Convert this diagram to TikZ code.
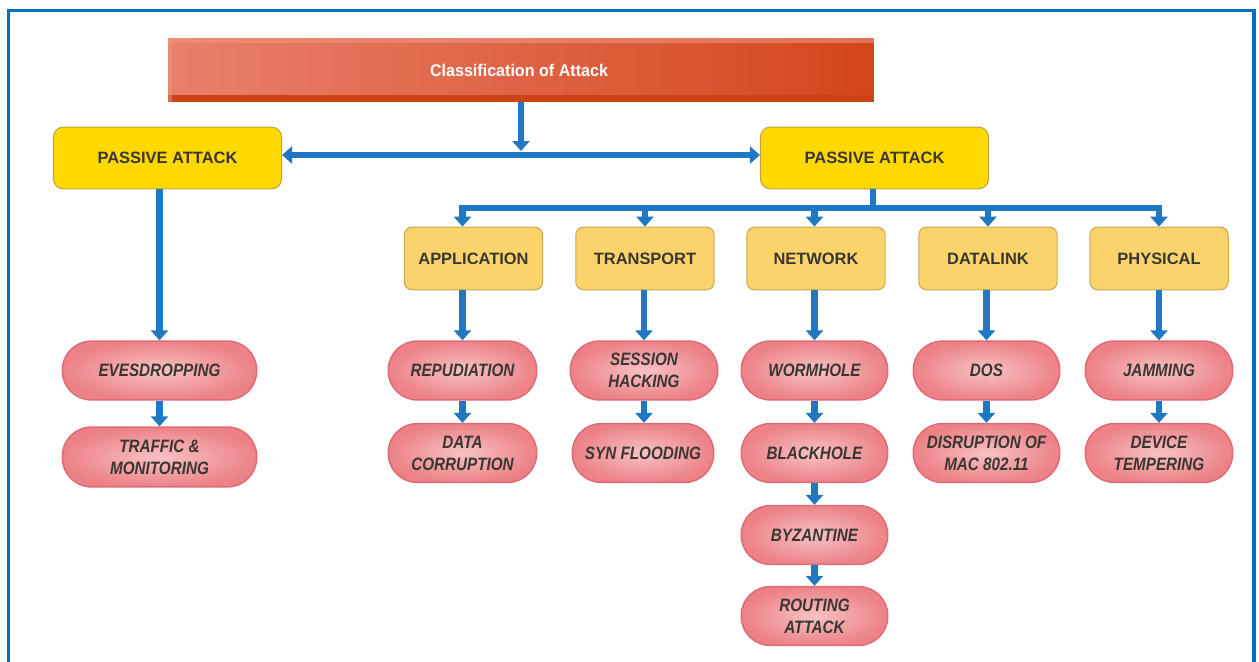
\documentclass[tikz,border=0pt]{standalone}
\usepackage{fontspec}
\setmainfont{Liberation Sans}
\usetikzlibrary{arrows.meta}
\definecolor{frameblue}{HTML}{0070C0}
\definecolor{arrblue}{HTML}{1F78C1}
\definecolor{ttlL}{HTML}{E9806C}
\definecolor{ttlR}{HTML}{D4461C}
\definecolor{ttlTop}{HTML}{EC9480}
\definecolor{ttlBot}{HTML}{CC4318}
\definecolor{yel}{HTML}{FFD800}
\definecolor{yelB}{HTML}{BFA23A}
\definecolor{lay}{HTML}{FAD46B}
\definecolor{layB}{HTML}{C9A650}
\definecolor{pinkT}{HTML}{F8C2C4}
\definecolor{pinkB}{HTML}{EC8287}
\definecolor{pinkD}{HTML}{E06A75}
\definecolor{txt}{HTML}{3A3630}
\newcommand\nar[1]{\scalebox{0.85}[1]{#1}}
\begin{document}
\begin{tikzpicture}[x=1bp,y=-1bp,
  pa/.style={draw=yelB, line width=1, fill=yel, rounded corners=10,
    minimum width=229, minimum height=62, text=txt,
    font=\fontsize{16.5}{19}\selectfont\bfseries},
  layer/.style={draw=layB, line width=1, fill=lay, rounded corners=8,
    minimum width=139, minimum height=63, text=txt,
    font=\fontsize{16.5}{19}\selectfont\bfseries},
  pk/.style={draw=pinkD, line width=1.5, inner color=pinkT, outer color=pinkB,
    rounded corners=29, minimum width=148, minimum height=59, align=center,
    text=txt, font=\fontsize{18}{22}\selectfont\bfseries\itshape},
  arr/.style={draw=arrblue, line width=7, -{Triangle[width=17,length=10]}},
  ln/.style={draw=arrblue, line width=7}
]
\useasboundingbox (0,0) rectangle (1259,662);
\fill[white] (0,0) rectangle (1259,662);
% frame
\draw[frameblue, line width=4] (8.5,670) -- (8.5,10.5) -- (1254,10.5) -- (1254,670);

% title bar
\node[left color=ttlL, right color=ttlR, minimum width=708, minimum height=64,
  inner sep=0] (title) at (521,70) {};
\fill[ttlTop, opacity=0.6] (title.north west) rectangle ([yshift=-5]title.north east);
\fill[ttlBot] ([yshift=7]title.south west) rectangle (title.south east);
\fill[ttlTop, opacity=0.5] (title.north west) rectangle ([xshift=4]title.south west);
\node[text=white, font=\fontsize{17}{20}\selectfont\bfseries] (ttltxt) at (519,70)
  {\scalebox{0.95}[1]{Classification of Attack}};

% passive attack boxes
\node[pa] (pa1) at (167.5,158) {PASSIVE ATTACK};
\node[pa] (pa2) at (874.5,158) {PASSIVE ATTACK};

% layers
\node[layer] (app) at (473.5,258.5) {APPLICATION};
\node[layer] (trn) at (645,258.5) {TRANSPORT};
\node[layer] (net) at (816,258.5) {NETWORK};
\node[layer] (dat) at (988,258.5) {DATALINK};
\node[layer] (phy) at (1159,258.5) {PHYSICAL};

% pink attacks
\node[pk, minimum width=195] (eve) at (159.5,370.5) {\nar{EVESDROPPING}};
\node[pk, minimum width=195, minimum height=60] (trf) at (159.5,457) {\nar{TRAFFIC \&}\\\nar{MONITORING}};
\node[pk, minimum width=149] (rep) at (462.5,370.5) {\nar{REPUDIATION}};
\node[pk, minimum width=149] (dcor) at (462.5,453) {\nar{DATA}\\\nar{CORRUPTION}};
\node[pk] (ses) at (644,370.5) {\nar{SESSION}\\\nar{HACKING}};
\node[pk, minimum width=142] (syn) at (643,453) {\nar{SYN FLOODING}};
\node[pk, minimum width=147] (wor) at (814.5,370.5) {\nar{WORMHOLE}};
\node[pk, minimum width=147] (bla) at (814.5,453) {\nar{BLACKHOLE}};
\node[pk, minimum width=147] (byz) at (814.5,535) {\nar{BYZANTINE}};
\node[pk, minimum width=147] (rou) at (814.5,616) {\nar{ROUTING}\\\nar{ATTACK}};
\node[pk, minimum width=147] (dos) at (986.5,370.5) {\nar{DOS}};
\node[pk, minimum width=147] (dis) at (986.5,453) {\nar{DISRUPTION OF}\\\nar{MAC 802.11}};
\node[pk] (jam) at (1159,370.5) {\nar{JAMMING}};
\node[pk] (dev) at (1159,453) {\nar{DEVICE}\\\nar{TEMPERING}};

% top connectors
\coordinate (hj) at (521,151);
\draw[arr] (title.south) -- (hj);
\draw[ln, {Triangle[width=17,length=10]}-{Triangle[width=17,length=10]}]
  ([yshift=3]pa1.east) -- ([yshift=3]pa2.west);

% left branch
\draw[arr] (pa1.south -| eve.north) -- (eve.north);
\draw[arr] (eve.south) -- (trf.north);

% right branch bus
\coordinate (br) at (873,208);
\draw[ln] (pa2.south -| br) -- (br);
\draw[ln, line cap=rect] (rep.north |- br) -- (jam.north |- br);
\draw[arr] (rep.north |- br) -- (rep.north |- app.north);
\draw[arr] (trn.north |- br) -- (trn.north);
\draw[arr] (wor.north |- br) -- (wor.north |- net.north);
\draw[arr] (dat.north |- br) -- (dat.north);
\draw[arr] (phy.north |- br) -- (phy.north);

% layer to attacks
\draw[arr] (app.south -| rep.north) -- (rep.north);
\draw[arr] (trn.south -| ses.north) -- (ses.north);
\draw[arr] (net.south -| wor.north) -- (wor.north);
\draw[arr] (dat.south -| dos.north) -- (dos.north);
\draw[arr] (phy.south -| jam.north) -- (jam.north);

% attack chains
\draw[arr] (rep.south) -- (dcor.north);
\draw[arr] (ses.south) -- (ses.south |- syn.north);
\draw[arr] (wor.south) -- (bla.north);
\draw[arr] (bla.south) -- (byz.north);
\draw[arr] (byz.south) -- (rou.north);
\draw[arr] (dos.south) -- (dis.north);
\draw[arr] (jam.south) -- (dev.north);
\end{tikzpicture}
\end{document}
